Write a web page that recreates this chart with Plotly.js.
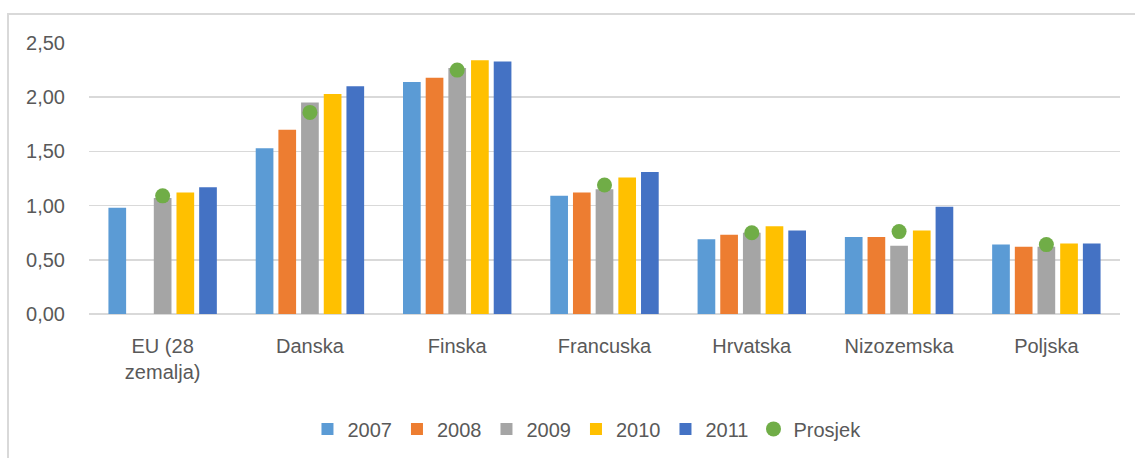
<!DOCTYPE html>
<html>
<head>
<meta charset="utf-8">
<script src="https://cdn.plot.ly/plotly-3.0.1.min.js"></script>
<style>
  html, body { margin: 0; padding: 0; background: #fff; }
  #frame { position: absolute; left: 7px; top: 13px; width: 1140px; height: 460px; border-left: 2px solid #D9D9D9; border-top: 2px solid #D9D9D9; }
  #chart { position: absolute; left: 0; top: 0; width: 1135px; height: 458px; }
</style>
</head>
<body>
<div id="frame"></div>
<div id="chart"></div>
<script>
const categories = ["EU (28<br>zemalja)", "Danska", "Finska", "Francuska", "Hrvatska", "Nizozemska", "Poljska"];
const v2007 = [0.98, 1.53, 2.14, 1.09, 0.69, 0.71, 0.64];
const v2008 = [null, 1.70, 2.18, 1.12, 0.73, 0.71, 0.62];
const v2009 = [1.07, 1.95, 2.27, 1.15, 0.75, 0.63, 0.62];
const v2010 = [1.12, 2.03, 2.34, 1.26, 0.81, 0.77, 0.65];
const v2011 = [1.17, 2.10, 2.33, 1.31, 0.77, 0.99, 0.65];
const prosjek = [1.09, 1.86, 2.25, 1.19, 0.75, 0.76, 0.64];
const seriesNames = ["2007", "2008", "2009", "2010", "2011"];
const seriesColors = ["#5B9BD5", "#ED7D31", "#A5A5A5", "#FFC000", "#4472C4"];
const seriesValues = [v2007, v2008, v2009, v2010, v2011];

const traces = seriesValues.map((vals, i) => ({
  type: "bar",
  name: seriesNames[i],
  x: categories,
  y: vals,
  marker: { color: seriesColors[i] }
}));
traces.push({
  type: "scatter",
  mode: "markers",
  name: "Prosjek",
  x: categories,
  y: prosjek,
  marker: { color: "#70AD47", size: 15 }
});

const layout = {
  width: 1135,
  height: 458,
  margin: { l: 89, r: 15, t: 43, b: 144, autoexpand: false },
  paper_bgcolor: "rgba(0,0,0,0)",
  plot_bgcolor: "rgba(0,0,0,0)",
  font: { family: "Liberation Sans, Arial, sans-serif", size: 20, color: "#595959" },
  separators: ", ",
  barmode: "group",
  bargap: 0.23,
  bargroupgap: 0.22,
  showlegend: true,
  legend: {
    orientation: "h",
    x: 0.483, xanchor: "center",
    y: -0.424, yanchor: "middle",
    font: { size: 20, color: "#595959" },
    itemwidth: 30,
    traceorder: "normal"
  },
  xaxis: {
    type: "category",
    automargin: false,
    showgrid: false,
    showline: false,
    zeroline: false,
    ticks: "",
    ticklabelstandoff: 18,
    tickfont: { size: 20, color: "#595959" }
  },
  yaxis: {
    range: [0, 2.5],
    automargin: false,
    dtick: 0.5,
    tickformat: ".2f",
    showgrid: true,
    gridcolor: "#D9D9D9",
    gridwidth: 1.5,
    zeroline: true,
    zerolinecolor: "#D9D9D9",
    zerolinewidth: 1.5,
    showline: false,
    ticks: "",
    ticklabelstandoff: 23,
    tickfont: { size: 20, color: "#595959" }
  }
};

Plotly.newPlot("chart", traces, layout, { displayModeBar: false, staticPlot: true });
</script>
</body>
</html>
